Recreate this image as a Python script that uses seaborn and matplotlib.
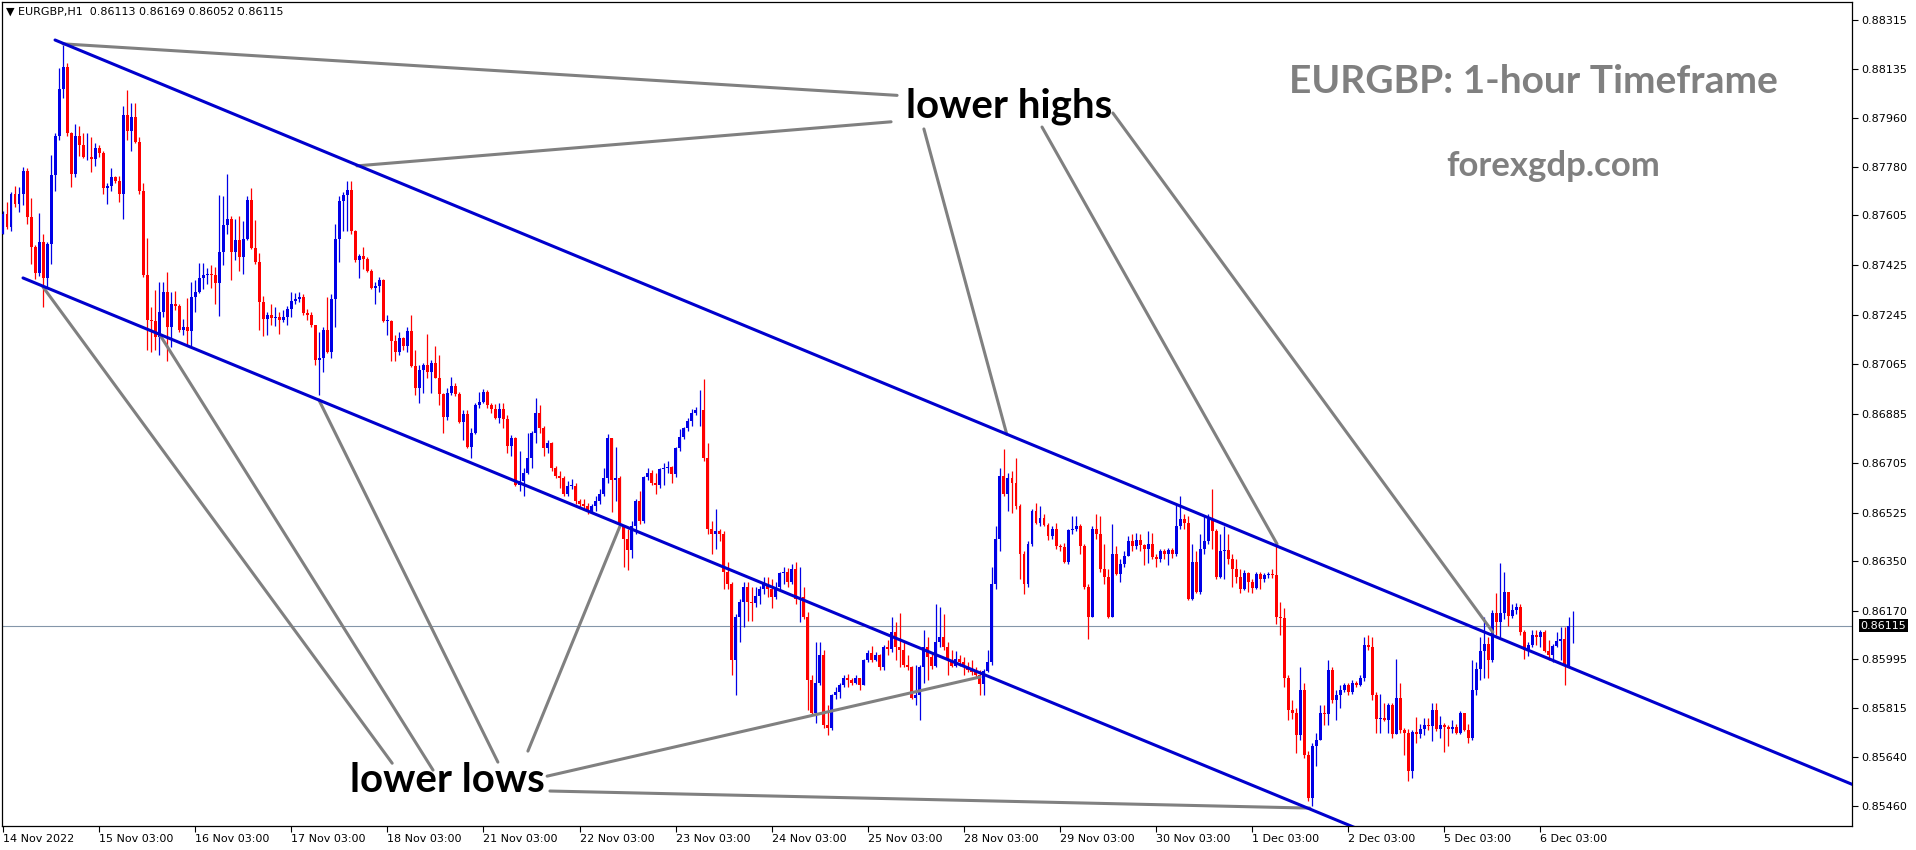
import numpy as np
import pandas as pd
import seaborn as sns
import matplotlib.pyplot as plt
import matplotlib.transforms as mtransforms

symbol = 'EURGBP'
period = 'H1'
first_bar = '2022-11-14 03:00'

# hourly bars, prices in points (1e-5); open of a bar = close of the bar before
first_open = 87538
closes = [
    87611, 87562, 87682, 87648, 87684, 87767, 87598, 87492, 87397, 87507,
    87377, 87501, 87752, 87895, 88063, 88145, 87904, 87754, 87895, 87862,
    87816, 87818, 87811, 87849, 87831, 87703, 87712, 87743, 87730, 87684,
    87968, 87913, 87962, 87873, 87693, 87388, 87227, 87223, 87163, 87254,
    87327, 87199, 87282, 87276, 87190, 87199, 87186, 87309, 87327, 87379,
    87388, 87391, 87388, 87360, 87474, 87569, 87593, 87474, 87514, 87455,
    87520, 87662, 87488, 87437, 87291, 87230, 87245, 87232, 87236, 87227,
    87236, 87267, 87294, 87300, 87309, 87251, 87245, 87208, 87080, 87089,
    87190, 87108, 87300, 87520, 87657, 87679, 87697, 87547, 87443, 87459,
    87446, 87404, 87340, 87349, 87369, 87221, 87221, 87150, 87108, 87159,
    87130, 87185, 87057, 86980, 87044, 87062, 87038, 87071, 87016, 86956,
    86874, 86961, 86987, 86958, 86855, 86885, 86764, 86815, 86916, 86928,
    86965, 86916, 86903, 86870, 86901, 86866, 86769, 86797, 86627, 86641,
    86669, 86723, 86815, 86888, 86833, 86760, 86778, 86687, 86659, 86650,
    86595, 86623, 86623, 86568, 86559, 86550, 86531, 86550, 86568, 86595,
    86650, 86797, 86645, 86650, 86480, 86431, 86390, 86476, 86568, 86495,
    86654, 86669, 86632, 86627, 86683, 86687, 86691, 86665, 86760, 86800,
    86833, 86857, 86888, 86897, 86897, 86723, 86467, 86449, 86458, 86449,
    86312, 86266, 85991, 86147, 86202, 86257, 86202, 86198, 86224, 86248,
    86266, 86248, 86220, 86257, 86306, 86312, 86275, 86321, 86211, 86220,
    86147, 85918, 85799, 85909, 86010, 85754, 85744, 85863, 85873, 85900,
    85927, 85918, 85909, 85927, 85900, 85991, 86015, 85991, 86010, 85964,
    86037, 86032, 86092, 86037, 86028, 85973, 85964, 85854, 85863, 85964,
    86037, 86001, 85970, 86056, 86074, 86037, 85991, 85970, 85995, 85982,
    85964, 85955, 85946, 85937, 85904, 85951, 85982, 86266, 86431, 86659,
    86595, 86650, 86632, 86550, 86376, 86266, 86412, 86531, 86489, 86508,
    86482, 86440, 86467, 86403, 86400, 86348, 86462, 86467, 86476, 86403,
    86257, 86147, 86467, 86449, 86321, 86293, 86147, 86376, 86303, 86339,
    86370, 86422, 86403, 86427, 86409, 86394, 86412, 86363, 86357, 86385,
    86376, 86390, 86376, 86476, 86504, 86489, 86211, 86348, 86239, 86394,
    86422, 86504, 86458, 86293, 86385, 86389, 86357, 86321, 86293, 86248,
    86306, 86275, 86251, 86303, 86284, 86299, 86303, 86299, 86147, 86142,
    85927, 85808, 85799, 85717, 85882, 85644, 85488, 85680, 85702, 85799,
    85794, 85955, 85845, 85863, 85882, 85900, 85873, 85909, 85900, 85927,
    86046, 86037, 85863, 85776, 85781, 85772, 85827, 85721, 85854, 85735,
    85726, 85589, 85730, 85721, 85739, 85754, 85750, 85808, 85739, 85754,
    85748, 85739, 85748, 85726, 85799, 85735, 85708, 85882, 85959, 86024,
    86050, 85991, 86162, 86129, 86160, 86239, 86151, 86174, 86184, 86092,
    86028, 86046, 86083, 86074, 86092, 86024, 86010, 86043, 86059, 86068,
    85970, 86113, 86115,
]
highs = [
    87620, 87653, 87690, 87712, 87708, 87781, 87776, 87670, 87496, 87615,
    87538, 87510, 87825, 87904, 88142, 88224, 88158, 87908, 87937, 87931,
    87904, 87904, 87891, 87867, 87862, 87840, 87721, 87776, 87748, 87748,
    88004, 88059, 88014, 88014, 87891, 87721, 87523, 87272, 87333, 87364,
    87364, 87401, 87327, 87331, 87282, 87230, 87305, 87364, 87369, 87434,
    87434, 87415, 87424, 87419, 87681, 87675, 87757, 87602, 87593, 87602,
    87584, 87675, 87703, 87587, 87468, 87313, 87254, 87282, 87272, 87254,
    87263, 87276, 87327, 87324, 87327, 87318, 87267, 87254, 87208, 87181,
    87199, 87309, 87318, 87574, 87675, 87690, 87730, 87730, 87551, 87465,
    87492, 87455, 87410, 87364, 87382, 87373, 87245, 87227, 87172, 87181,
    87163, 87199, 87245, 87117, 87062, 87071, 87176, 87080, 87130, 87099,
    86961, 86980, 87020, 86998, 86965, 86897, 86897, 86833, 86925, 86965,
    86976, 86971, 86925, 86921, 86925, 86925, 86879, 86806, 86800, 86751,
    86687, 86815, 86824, 86943, 86916, 86842, 86788, 86782, 86696, 86678,
    86659, 86641, 86647, 86632, 86577, 86577, 86562, 86559, 86586, 86610,
    86687, 86811, 86797, 86764, 86659, 86476, 86467, 86495, 86577, 86605,
    86659, 86687, 86681, 86669, 86687, 86705, 86714, 86696, 86764, 86828,
    86837, 86870, 86903, 86910, 86971, 87011, 86778, 86495, 86540, 86467,
    86458, 86348, 86275, 86156, 86211, 86275, 86275, 86257, 86257, 86261,
    86293, 86293, 86284, 86275, 86312, 86330, 86325, 86339, 86348, 86330,
    86257, 86165, 85937, 86056, 86056, 86028, 85827, 85867, 85891, 85909,
    85937, 85940, 85927, 85937, 85927, 85995, 86028, 86043, 86019, 86013,
    86046, 86065, 86147, 86129, 86160, 86056, 86010, 85970, 85973, 85973,
    86101, 86074, 86013, 86193, 86184, 86156, 86056, 86028, 86024, 86010,
    86001, 85982, 85991, 85964, 85955, 85959, 86028, 86330, 86476, 86687,
    86756, 86669, 86678, 86723, 86559, 86385, 86422, 86540, 86562, 86550,
    86522, 86489, 86476, 86489, 86412, 86416, 86467, 86513, 86513, 86486,
    86412, 86266, 86476, 86522, 86513, 86412, 86321, 86486, 86403, 86357,
    86385, 86440, 86449, 86453, 86449, 86412, 86458, 86453, 86376, 86394,
    86394, 86398, 86398, 86559, 86586, 86522, 86513, 86412, 86385, 86449,
    86513, 86522, 86610, 86467, 86449, 86476, 86449, 86376, 86357, 86321,
    86317, 86312, 86284, 86312, 86312, 86306, 86312, 86321, 86409, 86202,
    86178, 85937, 85845, 85818, 85964, 85909, 85662, 85690, 85726, 85827,
    85827, 85991, 85964, 85882, 85900, 85909, 85909, 85918, 85915, 85937,
    86074, 86083, 86074, 85873, 85867, 85836, 85836, 85836, 85995, 85909,
    85744, 85739, 85735, 85785, 85757, 85781, 85781, 85836, 85836, 85787,
    85763, 85754, 85772, 85757, 85805, 85799, 85757, 85991, 85982, 86074,
    86147, 86074, 86174, 86233, 86343, 86312, 86239, 86193, 86196, 86193,
    86101, 86056, 86101, 86098, 86098, 86098, 86065, 86050, 86092, 86110,
    86110, 86147, 86169,
]
lows = [
    87538, 87556, 87547, 87635, 87617, 87642, 87574, 87428, 87373, 87386,
    87272, 87346, 87428, 87693, 87880, 88032, 87895, 87708, 87745, 87821,
    87812, 87807, 87763, 87785, 87818, 87684, 87648, 87693, 87721, 87653,
    87593, 87880, 87840, 87867, 87684, 87382, 87117, 87108, 87115, 87099,
    87236, 87077, 87126, 87263, 87181, 87172, 87132, 87126, 87254, 87324,
    87337, 87355, 87342, 87282, 87241, 87424, 87538, 87369, 87443, 87404,
    87391, 87514, 87483, 87428, 87190, 87168, 87172, 87208, 87203, 87176,
    87218, 87208, 87236, 87282, 87291, 87245, 87227, 87199, 87062, 86952,
    87038, 87104, 87089, 87199, 87437, 87547, 87547, 87538, 87437, 87377,
    87410, 87401, 87337, 87282, 87327, 87218, 87172, 87075, 87075, 87099,
    87117, 87108, 87053, 86952, 86925, 86961, 87016, 86961, 87013, 86916,
    86815, 86861, 86952, 86949, 86852, 86788, 86760, 86723, 86811, 86906,
    86925, 86906, 86888, 86866, 86852, 86833, 86742, 86733, 86623, 86605,
    86586, 86665, 86687, 86778, 86815, 86733, 86742, 86678, 86650, 86614,
    86586, 86586, 86610, 86559, 86544, 86537, 86522, 86526, 86531, 86559,
    86586, 86632, 86528, 86568, 86476, 86330, 86317, 86361, 86449, 86486,
    86489, 86645, 86628, 86592, 86617, 86628, 86669, 86632, 86654, 86751,
    86793, 86824, 86842, 86879, 86842, 86714, 86449, 86376, 86394, 86422,
    86248, 86248, 85937, 85863, 86056, 86110, 86134, 86134, 86184, 86193,
    86229, 86220, 86178, 86211, 86248, 86266, 86257, 86266, 86193, 86129,
    86138, 85808, 85790, 85763, 85900, 85744, 85717, 85735, 85849, 85854,
    85891, 85891, 85900, 85905, 85882, 85900, 85982, 85982, 85988, 85955,
    85955, 86010, 86019, 85991, 85964, 85964, 85955, 85849, 85827, 85772,
    85909, 85918, 85959, 85964, 86037, 86028, 85937, 85964, 85964, 85970,
    85937, 85946, 85937, 85927, 85863, 85863, 85946, 85973, 86248, 86385,
    86586, 86531, 86526, 86540, 86284, 86229, 86257, 86403, 86486, 86476,
    86476, 86427, 86431, 86394, 86385, 86343, 86339, 86449, 86458, 86376,
    86248, 86068, 86147, 86431, 86312, 86266, 86142, 86156, 86299, 86275,
    86330, 86367, 86385, 86394, 86385, 86336, 86343, 86357, 86330, 86348,
    86357, 86336, 86361, 86367, 86467, 86467, 86207, 86207, 86233, 86229,
    86376, 86412, 86394, 86284, 86288, 86284, 86339, 86257, 86270, 86233,
    86244, 86239, 86233, 86248, 86248, 86275, 86288, 86288, 86120, 86083,
    85891, 85772, 85776, 85653, 85699, 85635, 85479, 85461, 85607, 85699,
    85754, 85754, 85836, 85772, 85818, 85873, 85863, 85867, 85891, 85896,
    85915, 86028, 85845, 85726, 85726, 85768, 85726, 85708, 85721, 85726,
    85644, 85552, 85561, 85690, 85708, 85717, 85735, 85695, 85732, 85708,
    85658, 85680, 85726, 85721, 85721, 85732, 85690, 85702, 85863, 85918,
    85927, 85927, 85982, 86083, 86074, 86138, 86114, 86142, 86156, 86083,
    85995, 86006, 86037, 86046, 86037, 86019, 85991, 85982, 86037, 85991,
    85900, 85964, 86052,
]

price_ticks = ['0.88315', '0.88135', '0.87960', '0.87780', '0.87605', '0.87425',
               '0.87245', '0.87065', '0.86885', '0.86705', '0.86525', '0.86350',
               '0.86170', '0.85995', '0.85815', '0.85640', '0.85460']

# channel lines, anchors as (bar index, price)
upper_x = [13, 336]
upper_p = [0.88242, 0.86297]
lower_x = [5, 269]
lower_p = [0.87378, 0.85794]

# pointer lines: bar0, price0, bar1, price1
highs_pointers = [
    (15.0, 0.88228, 223.3, 0.88041),
    (88.4, 0.87785, 221.8, 0.87945),
    (230.0, 0.87919, 250.7, 0.86810),
    (259.5, 0.87926, 318.2, 0.86412),
    (277.2, 0.87977, 372.1, 0.86092),
]
lows_pointers = [
    (10.0, 0.87345, 97.2, 0.85616),
    (39.2, 0.87171, 107.4, 0.85591),
    (78.9, 0.86935, 123.6, 0.85620),
    (154.1, 0.86477, 131.1, 0.85660),
    (135.9, 0.85569, 244.0, 0.85929),
    (136.6, 0.85515, 326.4, 0.85453),
]


sns.set_theme(style='white')
plt.rcParams['font.family'] = ['DejaVu Sans']

c = np.array(closes) / 1e5
o = np.r_[first_open / 1e5, c[:-1]]
h = np.maximum(np.array(highs) / 1e5, np.maximum(o, c))
l = np.minimum(np.array(lows) / 1e5, np.minimum(o, c))
x = np.arange(len(c))

times = pd.date_range(first_bar, periods=24 * 40, freq='h')
times = times[times.dayofweek < 5][:len(c)]

fig = plt.figure(figsize=(19.16, 8.5), dpi=100)
ax = fig.add_axes([2 / 1916, 24 / 850, 1850 / 1916, 824 / 850])

colors = np.where(c >= o, '#0000e6', '#ff0000')
ax.vlines(x, l, h, colors=colors, lw=0.9, zorder=2)
ax.bar(x, np.maximum(np.abs(c - o), 0.00003), bottom=np.minimum(o, c),
       width=0.74, color=colors, lw=0, zorder=3)

ax.axhline(c[-1], color='#8496a9', lw=0.8, zorder=1)

x_end = 480
for xs, ps in [(upper_x, upper_p), (lower_x, lower_p)]:
    slope = (ps[1] - ps[0]) / (xs[1] - xs[0])
    sns.lineplot(x=[xs[0], x_end], y=[ps[0], ps[0] + slope * (x_end - xs[0])],
                 color='#0000cd', lw=2.2, ax=ax, zorder=5)

for x0, p0, x1, p1 in highs_pointers + lows_pointers:
    sns.lineplot(x=[x0, x1], y=[p0, p1], color='#808080', lw=2.2, ax=ax, zorder=4)

ax.set_xlim(-0.25, 461.8)
ax.set_ylim(0.85388, 0.88380)

ax.yaxis.tick_right()
ax.set_yticks([float(t) for t in price_ticks])
ax.set_yticklabels(price_ticks)

tick_idx = [0] + [i for i in range(1, len(times)) if times[i].hour == 3]
tick_lab = [f'{times[0].day} {times[0]:%b %Y}'] + \
           [f'{times[i].day} {times[i]:%b %H:%M}' for i in tick_idx[1:]]
ax.set_xticks(tick_idx)
ax.set_xticklabels(tick_lab, ha='left')

ax.tick_params(axis='x', bottom=True, length=4, width=0.8, pad=2,
               labelsize=8, color='black', labelcolor='black')
ax.tick_params(axis='y', right=True, left=False, labelright=True, labelleft=False,
               length=4, width=0.8, pad=3, labelsize=8, color='black', labelcolor='black')
ax.set_xlabel('')
ax.set_ylabel('')
for s in ax.spines.values():
    s.set_visible(True)
    s.set_color('black')
    s.set_linewidth(0.9)

trans = mtransforms.blended_transform_factory(ax.transAxes, ax.transData)
ax.text(1.0045, c[-1], f'{c[-1]:.5f}', transform=trans, color='white', fontsize=8,
        va='center', ha='left', clip_on=False, zorder=10,
        bbox=dict(boxstyle='square,pad=0.15', fc='black', ec='none'))

ax.text(0.0022, 0.988, f'\u25bc {symbol},{period}  {o[-1]:.5f} {h[-1]:.5f} {l[-1]:.5f} {c[-1]:.5f}',
        transform=ax.transAxes, fontsize=8, va='center', ha='left', color='black')

ax.text(0.8276, 0.8895, f'{symbol}: 1-hour Timeframe', transform=ax.transAxes,
        ha='center', va='baseline', fontsize=28, fontweight='bold', color='#808080', family='Lato')
ax.text(0.8384, 0.7885, 'forexgdp.com', transform=ax.transAxes,
        ha='center', va='baseline', fontsize=25, fontweight='bold', color='#808080', family='Lato')

ax.text(225.5, 0.87959, 'lower highs', ha='left', va='baseline', fontsize=29,
        fontweight='bold', color='black', family='Lato', zorder=6)
ax.text(86.7, 0.85512, 'lower lows', ha='left', va='baseline', fontsize=29,
        fontweight='bold', color='black', family='Lato', zorder=6)

fig.savefig('out.png', dpi=100)
